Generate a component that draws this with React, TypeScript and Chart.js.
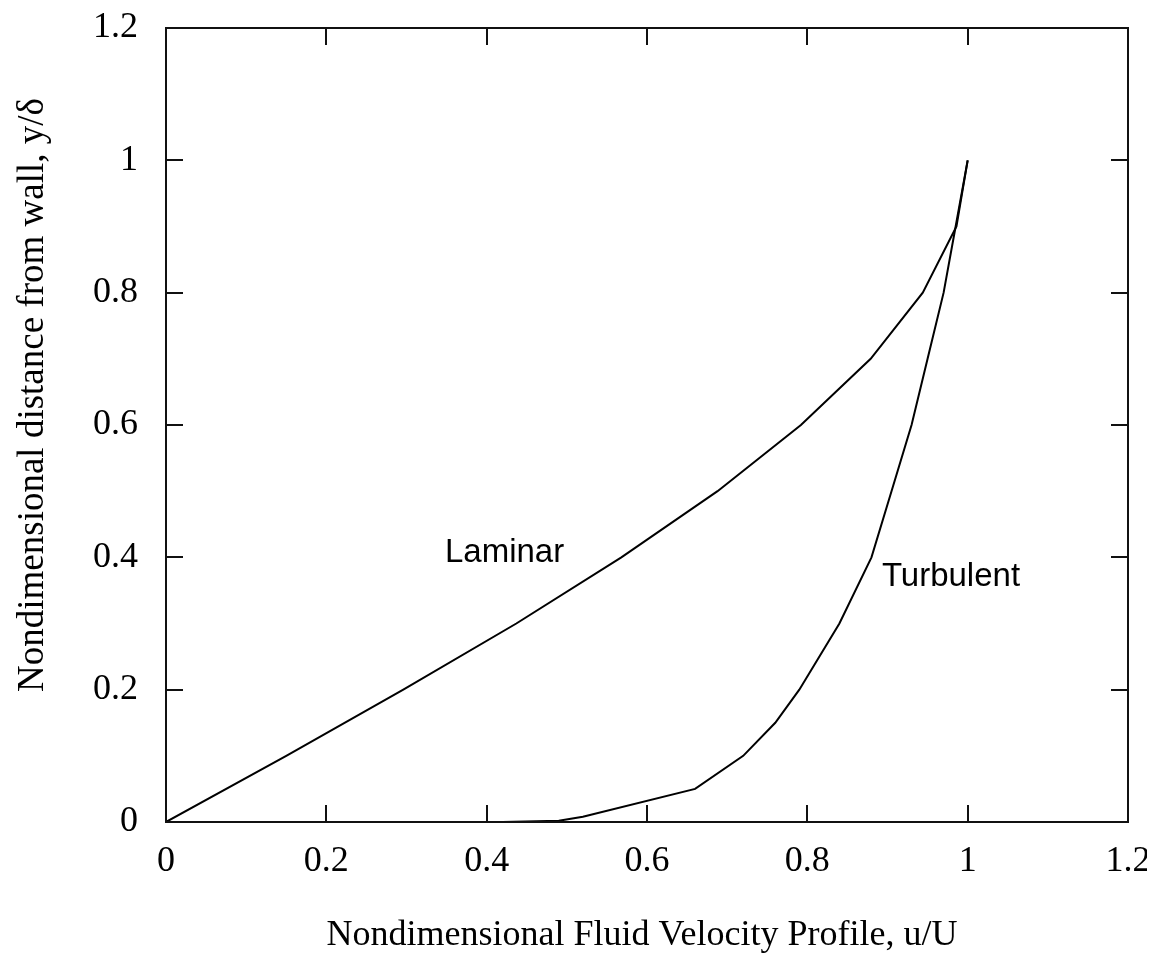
import React, { useEffect, useRef } from "react";
import { Chart, registerables } from "chart.js";

Chart.register(...registerables);

const laminarU = [0, 0.15, 0.296, 0.437, 0.568, 0.688, 0.792, 0.879, 0.944, 0.986, 1.0];
const laminarY = [0, 0.1, 0.2, 0.3, 0.4, 0.5, 0.6, 0.7, 0.8, 0.9, 1.0];

const turbulentU = [0.42, 0.49, 0.52, 0.66, 0.72, 0.76, 0.79, 0.84, 0.88, 0.905, 0.93, 0.95, 0.97, 0.985, 1.0];
const turbulentY = [0, 0.002, 0.008, 0.05, 0.1, 0.15, 0.2, 0.3, 0.4, 0.5, 0.6, 0.7, 0.8, 0.9, 1.0];

const seriesNames = ["Laminar", "Turbulent"];
const labelU = [0.348, 0.893];
const labelY = [0.407, 0.37];

const xTitle = "Nondimensional Fluid Velocity Profile, u/U";
const yTitle = "Nondimensional distance from wall, y/\u03b4";

const axisMin = 0;
const axisMax = 1.2;
const axisStep = 0.2;

const toPoints = (xs: number[], ys: number[]) => xs.map((x, i) => ({ x, y: ys[i] }));

const framePlugin = {
  id: "frameTicks",
  afterDatasetsDraw(chart: any) {
    const { ctx, chartArea, scales } = chart;
    const { left, right, top, bottom } = chartArea;
    const tl = 17;
    ctx.save();
    ctx.strokeStyle = "#111";
    ctx.lineWidth = 2;
    ctx.strokeRect(left, top, right - left, bottom - top);
    ctx.beginPath();
    scales.x.ticks.forEach((t: any) => {
      if (t.value <= axisMin + 1e-9 || t.value >= axisMax - 1e-9) return;
      const px = Math.round(scales.x.getPixelForValue(t.value));
      ctx.moveTo(px, bottom);
      ctx.lineTo(px, bottom - tl);
      ctx.moveTo(px, top);
      ctx.lineTo(px, top + tl);
    });
    scales.y.ticks.forEach((t: any) => {
      if (t.value <= axisMin + 1e-9 || t.value >= axisMax - 1e-9) return;
      const py = Math.round(scales.y.getPixelForValue(t.value));
      ctx.moveTo(left, py);
      ctx.lineTo(left + tl, py);
      ctx.moveTo(right, py);
      ctx.lineTo(right - tl, py);
    });
    ctx.stroke();

    // series labels
    ctx.fillStyle = "#000";
    ctx.font = '33px "Liberation Sans", Arial, sans-serif';
    ctx.textAlign = "left";
    ctx.textBaseline = "middle";
    seriesNames.forEach((name, i) => {
      ctx.fillText(name, scales.x.getPixelForValue(labelU[i]), scales.y.getPixelForValue(labelY[i]));
    });

    // axis titles
    ctx.font = '36px "Liberation Serif", "Times New Roman", serif';
    ctx.textAlign = "center";
    ctx.textBaseline = "middle";
    ctx.fillText(xTitle, (left + right) / 2 - 5, 928);
    ctx.save();
    ctx.translate(25, 387);
    ctx.rotate(-Math.PI / 2);
    ctx.font = '37px "Liberation Serif", "Times New Roman", serif';
    ctx.fillText(yTitle, 0, 0);
    ctx.restore();
    ctx.restore();
  },
};

export default function App() {
  const ref = useRef<HTMLCanvasElement | null>(null);
  useEffect(() => {
    if (!ref.current) return;
    const tickFont = { family: '"Liberation Serif", "Times New Roman", serif', size: 36, lineHeight: 1 };
    const fmt = (v: any) => String(Math.round(Number(v) * 10) / 10);
    const chart = new Chart(ref.current, {
      type: "scatter",
      data: {
        datasets: [
          {
            label: seriesNames[0],
            data: toPoints(laminarU, laminarY),
            showLine: true,
            borderColor: "#000",
            backgroundColor: "#000",
            borderWidth: 2,
            pointRadius: 0,
            tension: 0,
          },
          {
            label: seriesNames[1],
            data: toPoints(turbulentU, turbulentY),
            showLine: true,
            borderColor: "#000",
            backgroundColor: "#000",
            borderWidth: 2,
            pointRadius: 0,
            tension: 0,
          },
        ],
      },
      options: {
        animation: false,
        responsive: false,
        maintainAspectRatio: false,
        layout: { padding: { left: 0, right: 19, top: 20, bottom: 0 } },
        plugins: { legend: { display: false }, tooltip: { enabled: false } },
        scales: {
          x: {
            type: "linear",
            min: axisMin,
            max: axisMax,
            grid: { display: false, drawTicks: false, tickLength: 0 },
            border: { display: false },
            ticks: { stepSize: axisStep, color: "#000", font: tickFont, padding: 22, callback: fmt, maxRotation: 0 },
            afterFit: (s: any) => {
              s.height = 139;
              s.paddingLeft = 0;
              s.paddingRight = 0;
            },
          },
          y: {
            type: "linear",
            min: axisMin,
            max: axisMax,
            grid: { display: false, drawTicks: false, tickLength: 0 },
            border: { display: false },
            ticks: { stepSize: axisStep, color: "#000", font: tickFont, padding: 28, callback: fmt },
            afterFit: (s: any) => {
              s.width = 158;
              s.paddingTop = 0;
              s.paddingBottom = 0;
            },
          },
        },
      },
      plugins: [framePlugin],
    });
    return () => chart.destroy();
  }, []);
  return (
    <div style={{ width: 1139, height: 945 }}>
      <canvas ref={ref} width={1139} height={953} style={{ display: "block" }} />
    </div>
  );
}
